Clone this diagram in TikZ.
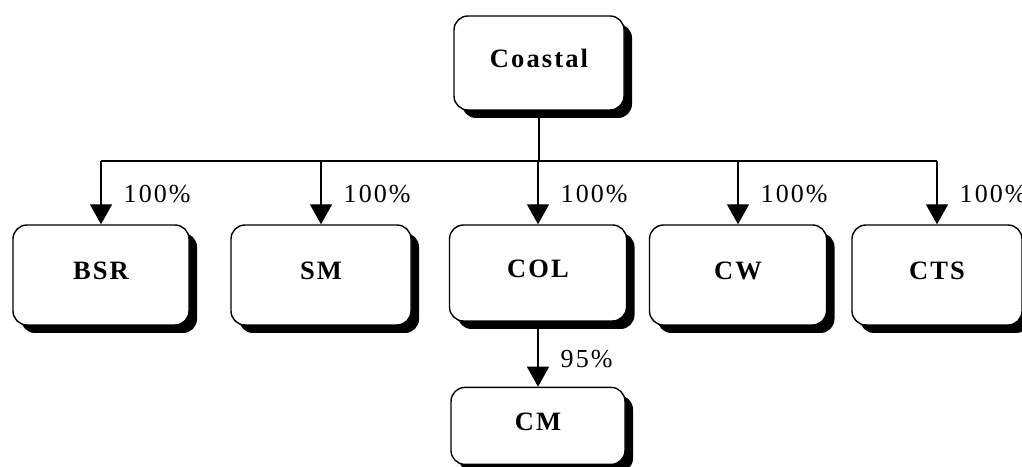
\documentclass[tikz,border=0pt]{standalone}
\usepackage{fontspec}
\setmainfont{Liberation Serif}[LetterSpace=8]
\usetikzlibrary{arrows.meta, positioning, shadows}

\begin{document}
\begin{tikzpicture}[
  x=1pt, y=1pt,
  every node/.style={font=\fontsize{25}{30}\selectfont},
  unit/.style={rectangle, rounded corners=14pt, draw=black, line width=1.4pt, fill=white,
    minimum width=#1, minimum height=100pt, text height=18pt, text depth=8pt,
    inner sep=0pt, font=\fontsize{26.5}{30}\selectfont\bfseries,
    drop shadow={shadow xshift=8pt, shadow yshift=-8pt, fill=black, opacity=1}},
  unit/.default=177pt,
  link/.style={line width=1.4pt},
  arr/.style={-{Triangle[length=20pt, width=22pt]}, line width=1.4pt},
  share/.style={right=22pt, inner sep=0pt, font=\fontsize{26}{30}\selectfont}
]
\useasboundingbox (0,0) rectangle (1022,466);

% ===== TOP =====
\node[unit=170pt, minimum height=94pt] (coastal) at (539,403) {Coastal};
\coordinate (bus) at (539,305);

% ===== SUBSIDIARIES =====
\node[unit=176pt] (bsr) at (101,191) {BSR};
\node[unit=180pt] (sm) at (321,191) {SM};
\node[unit, minimum height=96pt] (col) at (538,193) {COL};
\node[unit] (cw) at (738,191) {CW};
\node[unit=170pt] (cts) at (937,191) {CTS};
\node[unit=174pt, minimum height=77pt, below=65pt of col] (cm) {CM};

% ===== CONNECTORS =====
\draw[link] (coastal.south) -- (bus);
\draw[link] (bsr.north |- bus) -- (cts.north |- bus);
\draw[arr] (bsr.north |- bus) -- (bsr.north) node[share, pos=0.52] {100\%};
\draw[arr] (sm.north |- bus) -- (sm.north) node[share, pos=0.52] {100\%};
\draw[arr] (col.north |- bus) -- (col.north) node[share, pos=0.52] {100\%};
\draw[arr] (cw.north |- bus) -- (cw.north) node[share, pos=0.52] {100\%};
\draw[arr] (cts.north |- bus) -- (cts.north) node[share, pos=0.52] {100\%};
\draw[arr] (col.south) -- (cm.north) node[share, pos=0.58] {95\%};
\end{tikzpicture}
\end{document}
